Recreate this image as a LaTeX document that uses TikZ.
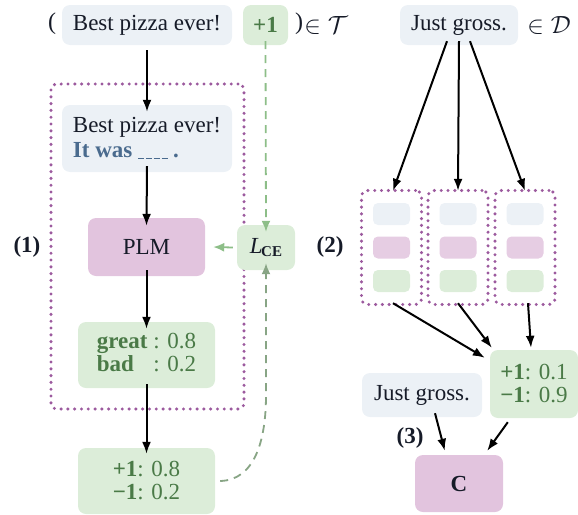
\documentclass[tikz,border=0pt]{standalone}
\usepackage{fontspec}
\setmainfont{Liberation Serif}
\usetikzlibrary{arrows.meta,calc}
\definecolor{bfill}{HTML}{ECF1F6}
\definecolor{pfill}{HTML}{E2C4DE}
\definecolor{gfill}{HTML}{DCEDD9}
\definecolor{txt}{HTML}{161B28}
\definecolor{gtxt}{HTML}{4A7A47}
\definecolor{btxt}{HTML}{4A6B8E}
\definecolor{dotc}{HTML}{9C5A9E}
\definecolor{gline}{HTML}{8DBE88}
\tikzset{
  box/.style={rounded corners=8pt, inner sep=0pt, align=center, text=txt,
    font=\fontsize{23}{27}\selectfont},
  bbox/.style={box, fill=bfill},
  pbox/.style={box, fill=pfill},
  gbox/.style={box, fill=gfill, text=gtxt},
  dotbox/.style={draw=dotc, rounded corners=6pt, line width=3.4pt, line cap=round,
    dash pattern=on 0pt off 6.8pt, inner sep=0pt},
  arr/.style={-{Latex[length=12pt,width=9pt]}, line width=2pt, black},
  garr/.style={-{Latex[length=11pt,width=9pt]}, line width=1.8pt, gline, dash pattern=on 8pt off 6pt},
  lbl/.style={font=\fontsize{23}{27}\selectfont\bfseries, text=txt, inner sep=0pt},
  plain/.style={font=\fontsize{24}{27}\selectfont, text=txt, inner sep=0pt},
}
\newcommand{\blankseg}{\rule[-1.5pt]{6pt}{1.1pt}\kern1.8pt}
\begin{document}
\begin{tikzpicture}[x=1pt,y=-1pt]
\useasboundingbox (0,0) rectangle (578,514);
% ---- top row
\node[plain] (lp) at (52,24) {(};
\node[bbox, minimum width=170, minimum height=40] (bp) at (147,25) {Best pizza ever!};
\node[gbox, minimum width=45, minimum height=40, font=\fontsize{23}{27}\selectfont\bfseries] (p1) at (265.5,25) {+1};
\node[plain] (rp) at (299,24) {)};
\node[plain] (inT) at (326,25) {$\in\mathcal{T}$};
\node[bbox, minimum width=118, minimum height=40] (jg) at (459,25) {Just gross.};
\node[plain] (inD) at (549,25) {$\in\mathcal{D}$};
% ---- left pipeline
\node[dotbox, minimum width=193, minimum height=325] (frame) at (147.5,246.5) {};
\node[lbl] (l1) at (27,247) {(1)};
\node[bbox, minimum width=170, minimum height=67, align=left] (pr) at (147,138.5)
  {Best pizza ever!\\[-2pt]{\color{btxt}\bfseries It was \blankseg\blankseg\blankseg\blankseg\,.}};
\node[pbox, minimum width=117, minimum height=58] (plm) at (146.5,247) {PLM};
\node[gbox, minimum width=58, minimum height=45, text=txt] (lce) at (266,247.5)
  {{\itshape L}\kern-1.5pt\raisebox{-3pt}{\fontsize{15}{15}\selectfont\bfseries CE}};
\node[gbox, minimum width=137, minimum height=66] (vb) at (146.5,355)
  {\begin{tabular}{@{}l@{\ }l@{}}\textbf{great} & : 0.8\\[-4pt] \textbf{bad} & : 0.2\end{tabular}};
\node[gbox, minimum width=137, minimum height=66] (res) at (146.5,481)
  {\textbf{+1}: 0.8\\[-4pt]\textbf{−1}: 0.2};
\coordinate (bend) at (266,395);
\draw[arr] (bp.south) ++(0,5) -- ([yshift=-7]pr.north);
\draw[arr] ([yshift=6]pr.south) -- ([yshift=-8]plm.north);
\draw[arr] ([yshift=6]plm.south) -- ([yshift=-7]vb.north);
\draw[arr] ([yshift=4]vb.south) -- ([yshift=-6]res.north);
\draw[garr] ([yshift=4]p1.south) -- ([yshift=-7]lce.north);
\draw[garr, dash pattern=on 14pt off 5pt] ([xshift=-4]lce.west) -- ([xshift=8]plm.east);
\draw[garr, gline!60!gray] ([xshift=5]res.east) .. controls (255,480) and (266,440) .. (bend) -- ([yshift=7]lce.south);
% ---- right: (2)
\node[lbl] (l2) at (330,247) {(2)};
\foreach \i/\x in {1/391.5,2/458,3/525}{
  \node[dotbox, minimum width=60, minimum height=114] (c\i) at (\x,247.5) {};
  \node[box, fill=bfill, minimum width=37, minimum height=22, rounded corners=5pt] (cb\i) at (\x,214) {};
  \node[box, fill=pfill!85, minimum width=37, minimum height=22, rounded corners=5pt] (cp\i) at (\x,247.5) {};
  \node[box, fill=gfill, minimum width=37, minimum height=22, rounded corners=5pt] (cg\i) at (\x,281) {};
}
\draw[arr] ([xshift=-12,yshift=4]jg.south) -- ([xshift=1.5,yshift=-2]c1.north);
\draw[arr] ([yshift=4]jg.south) -- ([yshift=-2]c2.north);
\draw[arr] ([xshift=11,yshift=4]jg.south) -- ([yshift=-2]c3.north);
% ---- right: aggregated + (3)
\node[gbox, minimum width=88, minimum height=68] (agg) at (534,384)
  {\textbf{+1}: 0.1\\[-4pt]\textbf{−1}: 0.9};
\node[bbox, minimum width=120, minimum height=44] (jg2) at (422,395) {Just gross.};
\node[pbox, minimum width=88, minimum height=57] (cc) at (459,483.5) {\textbf{C}};
\node[lbl] (l3) at (410,438) {(3)};
\draw[arr] ([xshift=1.5,yshift=3]c1.south) -- ($(agg.north west)+(-5,8)$);
\draw[arr] ([yshift=3]c2.south) -- ($(agg.north west)+(2,-2)$);
\draw[arr] ([xshift=3,yshift=3]c3.south) -- ($(agg.north)+(-3,-2)$);
\draw[arr] ([xshift=13,yshift=4]jg2.south) -- ($(cc.north west)+(30,-4)$);
\draw[arr] ($(agg.south west)+(18,4)$) -- ($(cc.north east)+(-16,-4)$);
\end{tikzpicture}
\end{document}
